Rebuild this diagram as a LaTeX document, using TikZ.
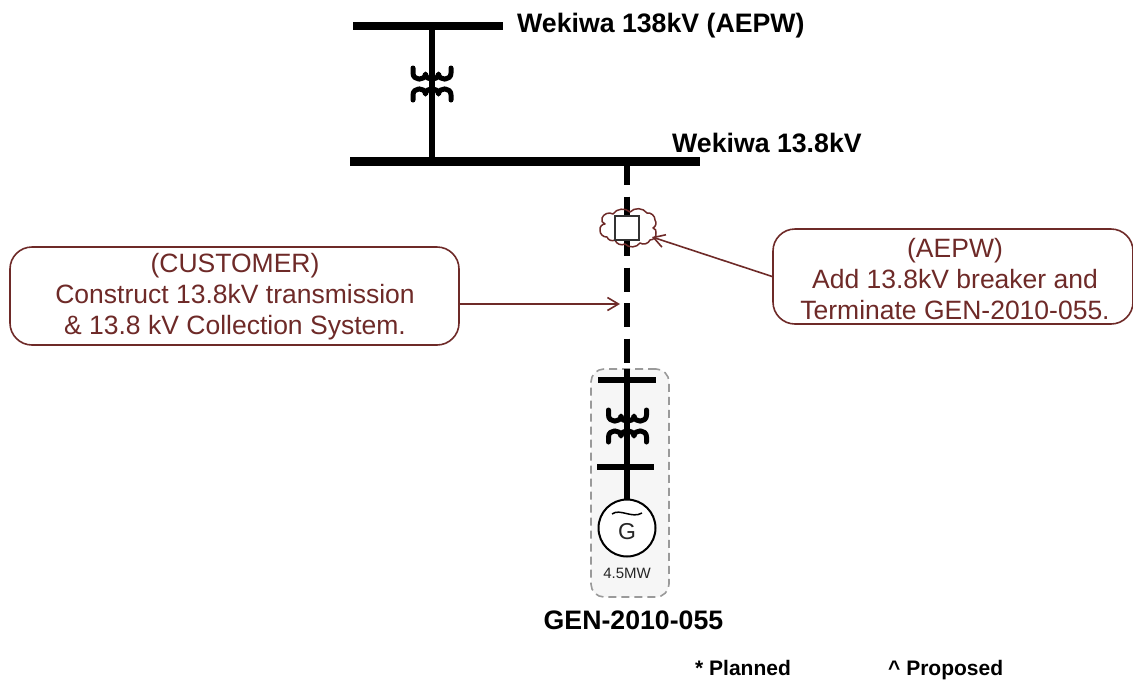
\documentclass[tikz,border=0pt]{standalone}
\usepackage{fontspec}
\setmainfont{Liberation Sans}
\usetikzlibrary{arrows.meta}
\definecolor{maroon}{HTML}{6E2A28}
\definecolor{boxgray}{HTML}{F6F6F6}
\definecolor{dashgray}{HTML}{9A9A9A}
\tikzset{
  x=1pt,y=-1pt,
  busbar/.style={fill=black,draw=none,inner sep=0pt,rectangle},
  feeder/.style={line width=5.5pt,black},
  feederdash/.style={line width=6pt,black,dash pattern=on 24pt off 11.5pt},
  coil/.style={line width=5pt,line cap=round,line join=round,black},
  busname/.style={font=\fontsize{26.7}{30}\selectfont\bfseries,black,inner sep=0pt,anchor=west},
  notename/.style={font=\fontsize{21}{24}\selectfont\bfseries,black,inner sep=0pt,anchor=base west},
  callout/.style={draw=maroon,line width=1.6pt,rounded corners=22pt,fill=white,inner sep=0pt},
  callouttext/.style={text=maroon,align=center,inner sep=0pt},
  calloutarrow/.style={draw=maroon,line width=1.6pt,-{Straight Barb[length=11pt,width=13pt,line width=1.6pt]}},
  lobe/.style={bend left=50},
  pics/xfmr/.style={code={
    \draw[coil] (-19,-16) -- (-19,-11) .. controls (-19,-3) and (-7,-3) .. (-6.5,-10)
       .. controls (-6,-3) and (6,-3) .. (6.5,-10) .. controls (7,-3) and (19,-3) .. (19,-11) -- (19,-16);
    \draw[coil] (-19,16) -- (-19,11) .. controls (-19,3) and (-7,3) .. (-6.5,10)
       .. controls (-6,3) and (6,3) .. (6.5,10) .. controls (7,3) and (19,3) .. (19,11) -- (19,16);
  }}
}
\begin{document}
\begin{tikzpicture}
\useasboundingbox (0,0) rectangle (1133,681);
% generator enclosure
\node[draw=dashgray,line width=1.6pt,dashed,dash pattern=on 8pt off 5pt,fill=boxgray,rounded corners=13pt,
  minimum width=78pt,minimum height=228pt,inner sep=0pt] (genbox) at (630,483) {};
% buses
\node[busbar,minimum width=150pt,minimum height=8.5pt] (bus138) at (428,26) {};
\node[busbar,minimum width=350pt,minimum height=8.5pt] (bus13) at (525,161.5) {};
\node[busbar,minimum width=58pt,minimum height=6pt] (busgenhi) at (627,380) {};
\node[busbar,minimum width=57pt,minimum height=6pt] (busgenlo) at (625.5,467) {};
% equipment anchors
\coordinate (t1) at (432,84);
\coordinate (t2) at (627.5,426);
\coordinate (dashtop) at (627,161);
\coordinate (dashend) at (627,369);
\coordinate (gentop) at (627,369);
% feeders
\draw[feeder] (t1 |- bus138.center) -- (t1 |- bus13.center);
\draw[feederdash] (dashtop) -- (dashend);
\node[circle,draw=black,line width=2pt,fill=white,minimum size=57pt,inner sep=0pt] (gen) at (627,528) {};
\draw[feeder] (gentop) -- (gen.north);
\pic at (t1) {xfmr};
\pic at (t2) {xfmr};
% breaker
\draw[maroon,line width=1.5pt,line join=round] (613,214) to[lobe] (630,212) to[lobe] (647,213) to[lobe] (655,220)
  to[lobe] (653,228) to[lobe] (656,233) to[lobe] (650,240) to[lobe] (640,243) to[lobe] (625,244)
  to[lobe] (615,240) to[lobe] (607,237) to[lobe] (600,230) to[lobe] (605,224) to[lobe] (602,218) to[lobe] cycle;
\node[rectangle,draw=black!80,line width=1.6pt,fill=white,minimum size=24pt,inner sep=0pt] (brk) at (627,228) {};
% generator details
\node[inner sep=0pt,font=\fontsize{23}{26}\selectfont,text=black!85] (glabel) at (627,532) {G};
\draw[black,line width=1.5pt] (612,514) .. controls (620,508) and (632,519) .. (642,513);
\node[inner sep=0pt,font=\fontsize{15}{17}\selectfont,text=black!85] (mw) at (627,573) {4.5MW};
% text
\node[busname] (n138) at (517,26) {Wekiwa 138kV (AEPW)};
\node[busname] (n13) at (672,143) {Wekiwa 13.8kV};
\node[busname,anchor=base] (ngen) at (633.5,629) {GEN-2010-055};
\node[notename] (planned) at (695,675) {* Planned};
\node[notename] (proposed) at (888,675) {\textasciicircum{} Proposed};
% callouts
\node[callout,minimum width=449pt,minimum height=98pt] (cust) at (234.5,296) {};
\node[callouttext,font=\fontsize{26.5}{31}\selectfont] (custtext) at (235,297) {(CUSTOMER)\\Construct 13.8kV transmission\\\& 13.8 kV Collection System.};
\node[callout,minimum width=360pt,minimum height=95pt] (aepw) at (953,276.5) {};
\node[callouttext,font=\fontsize{26.5}{31}\selectfont] (aepwtext) at (955,279.5) {(AEPW)\\Add 13.8kV breaker and\\Terminate GEN-2010-055.};
\coordinate (custtip) at (620,304);
\coordinate (aepwtip) at (652,237);
\draw[calloutarrow] (cust.east |- custtip) -- (custtip);
\draw[calloutarrow] (aepw.west) -- (aepwtip);
\end{tikzpicture}
\end{document}
